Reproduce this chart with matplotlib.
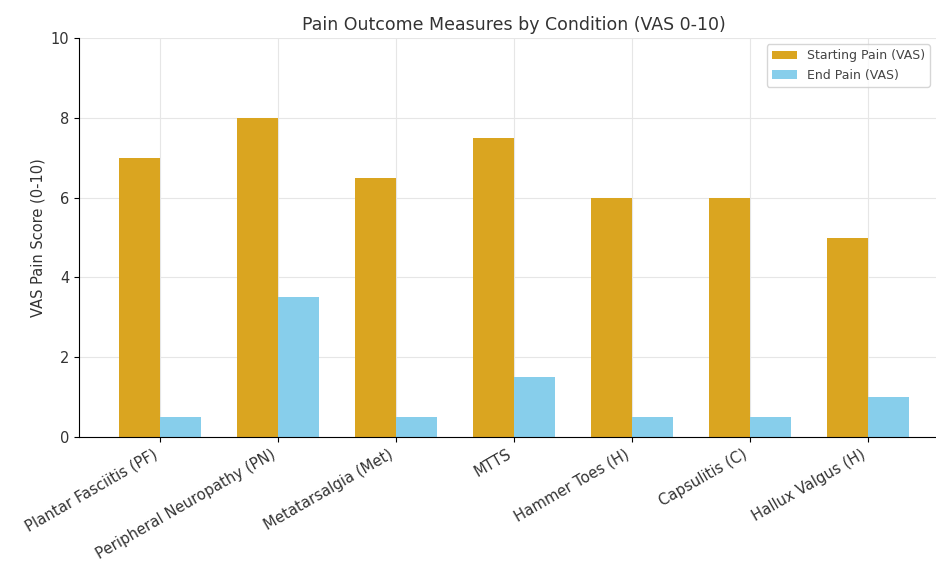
import matplotlib
matplotlib.use("Agg")
import matplotlib.pyplot as plt
import numpy as np

conditions = ["Plantar Fasciitis (PF)", "Peripheral Neuropathy (PN)", "Metatarsalgia (Met)",
              "MTTS", "Hammer Toes (H)", "Capsulitis (C)", "Hallux Valgus (H)"]
start_pain = [7, 8, 6.5, 7.5, 6, 6, 5]
end_pain = [0.5, 3.5, 0.5, 1.5, 0.5, 0.5, 1]

x = np.arange(len(conditions))
width = 0.35

fig = plt.figure(figsize=(9.37, 5.65), dpi=100)
ax = fig.add_axes([0.0843, 0.2265, 0.9285, 0.7062])

ax.bar(x - width / 2, start_pain, width, label="Starting Pain (VAS)", color="goldenrod")
ax.bar(x + width / 2, end_pain, width, label="End Pain (VAS)", color="skyblue")

ax.set_ylim(0, 10)
ax.set_xticks(x)
ax.set_xticklabels(conditions, rotation=30, ha="right", fontsize=10.7, color="#333333")
ax.tick_params(axis="y", labelsize=10.5, labelcolor="#333333")
ax.set_ylabel("VAS Pain Score (0-10)", fontsize=10.5, color="#333333")
ax.set_title("Pain Outcome Measures by Condition (VAS 0-10)", fontsize=12.5, color="#333333")

# light grid behind the bars
ax.set_axisbelow(True)
ax.grid(True, color="#e6e6e6", linewidth=0.8)
for side in ["top", "right"]:
    ax.spines[side].set_visible(False)

ax.legend(loc="upper right", fontsize=9, bbox_to_anchor=(0.985, 1.0), labelcolor="#444444")

fig.savefig("out.png", dpi=100)
